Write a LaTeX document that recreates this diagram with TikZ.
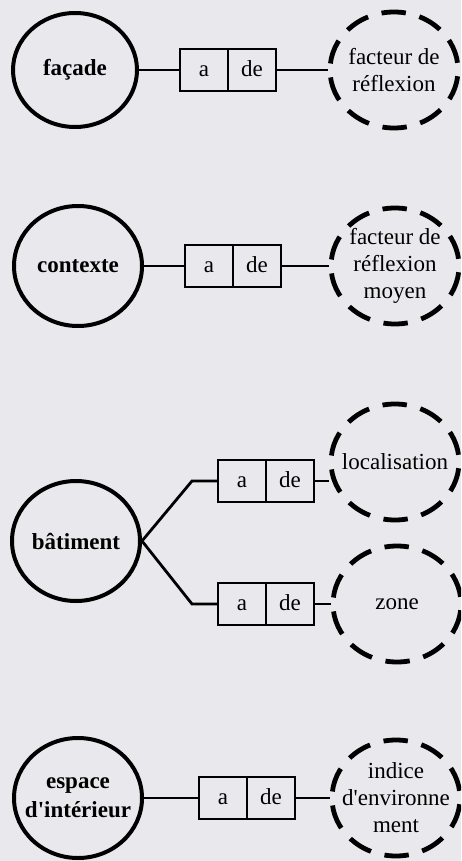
\documentclass[tikz,border=0pt]{standalone}
\usepackage{fontspec}
\setmainfont{Liberation Serif}
\usetikzlibrary{shapes.geometric, positioning}
\definecolor{fond}{RGB}{233,232,236}

\begin{document}
\begin{tikzpicture}[x = 0.5pt, y = -0.5pt,
    classe/.style = {ellipse, draw, line width = 2pt, minimum width = 64pt, minimum height = 60pt,
        inner xsep = -9pt, inner ysep = 0pt, align = center, font = \fontsize{11.5}{14.5}\selectfont\bfseries},
    attribut/.style = {ellipse, draw, line width = 2.4pt, dash pattern = on 12.2pt off 7pt,
        dash phase = 15.6pt, minimum width = 64pt, minimum height = 58pt, inner xsep = -9pt,
        inner ysep = -1pt, align = center, font = \fontsize{11.5}{13.5}\selectfont},
    role/.style = {rectangle, draw, line width = 1.4pt, minimum width = 24pt, minimum height = 21pt,
        inner sep = 0pt, outer sep = 0pt, text height = 1.6ex, text depth = 0.2ex,
        font = \fontsize{11.5}{14}\selectfont},
    lien/.style = {line width = 1.4pt}]
    % Fond
    \fill[fond] (0,0) rectangle (461,861);
    \useasboundingbox (0,0) rectangle (461,861);
    \clip (0,0) rectangle (461,861);
    % Classes
    \node[classe, minimum width = 62pt, minimum height = 57pt] (fac) at (75,70) {façade};
    \node[classe] (ctx) at (78,266) {contexte};
    \node[classe] (bat) at (76,541) {bâtiment};
    \node[classe] (esp) at (78,798) {espace\\d\textquotesingle intérieur};
    % Attributs
    \node[attribut] (refl) at (394,70) {facteur de\\réflexion};
    \node[attribut] (reflm) at (395,266) {facteur de\\réflexion\\moyen};
    \node[attribut] (loc) at (395,462) {localisation};
    \node[attribut] (zon) at (397,604) {zone};
    \node[attribut] (ind) at (396,798) {indice\\d\textquotesingle environne\\ment};
    % Roles
    \node[role] (facA) at (204,70) {a};
    \node[role, right = 0pt of facA] (facDe) {de};
    \node[role] (ctxA) at (209,266) {a};
    \node[role, right = 0pt of ctxA] (ctxDe) {de};
    \node[role] (locA) at (242,481) {a};
    \node[role, right = 0pt of locA] (locDe) {de};
    \node[role] (zonA) at (242,604) {a};
    \node[role, right = 0pt of zonA] (zonDe) {de};
    \node[role] (espA) at (223,798) {a};
    \node[role, right = 0pt of espA] (espDe) {de};
    % Liens
    \coordinate (batH) at (192,481);
    \coordinate (batB) at (192,604);
    \draw[lien] (fac.east) -- (facA.west);
    \draw[lien] (facDe.east) -- (refl.west);
    \draw[lien] (ctx.east) -- (ctxA.west);
    \draw[lien] (ctxDe.east) -- (reflm.west);
    \draw[lien] (bat.east) -- (batH) -- (locA.west);
    \draw[lien] (bat.east) -- (batB) -- (zonA.west);
    \draw[lien] (locDe.east) -- (locDe.east -| loc.west);
    \draw[lien] (zonDe.east) -- (zon.west);
    \draw[lien] (esp.east) -- (espA.west);
    \draw[lien] (espDe.east) -- (ind.west);
\end{tikzpicture}
\end{document}
